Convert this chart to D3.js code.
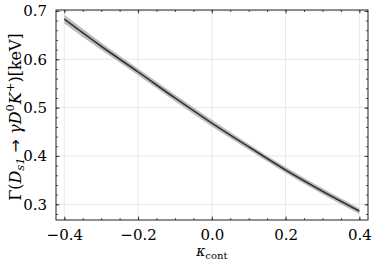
<!DOCTYPE html>
<html>
<head>
<meta charset="utf-8">
<script src="https://cdn.jsdelivr.net/npm/d3@7"></script>
<style>
  body { margin: 0; background: #fff; }
  svg { display: block; }
</style>
</head>
<body>
<svg width="377" height="264"></svg>
<script>
// values
const kappa = [-0.4, -0.3, -0.2, -0.1, 0.0, 0.1, 0.2, 0.3, 0.4];
const gammaCentral = [0.683, 0.627, 0.574, 0.520, 0.468, 0.419, 0.371, 0.327, 0.286];
const gammaUpper = [0.692, 0.635, 0.581, 0.527, 0.475, 0.425, 0.377, 0.333, 0.292];
const gammaLower = [0.674, 0.619, 0.567, 0.513, 0.461, 0.413, 0.365, 0.321, 0.280];

const xMajor = [-0.4, -0.2, 0.0, 0.2, 0.4];
const yMajor = [0.3, 0.4, 0.5, 0.6, 0.7];

const serif = '"DejaVu Serif", serif';
const plot = {left: 56, right: 368, top: 10, bottom: 220};

const svg = d3.select("svg");

const x = d3.scaleLinear().domain([-0.4225, 0.4235]).range([plot.left, plot.right]);
const y = d3.scaleLinear().domain([0.2675, 0.702]).range([plot.bottom, plot.top]);

const xMinor = d3.range(-0.4, 0.4001, 0.05);
const yMinor = d3.range(0.28, 0.7001, 0.02);

// grid
svg.append("g").selectAll("line").data(xMajor).join("line")
  .attr("x1", d => x(d)).attr("x2", d => x(d))
  .attr("y1", plot.top).attr("y2", plot.bottom)
  .attr("stroke", "#e3e3e3").attr("stroke-width", 0.8);
svg.append("g").selectAll("line").data(yMajor).join("line")
  .attr("y1", d => y(d)).attr("y2", d => y(d))
  .attr("x1", plot.left).attr("x2", plot.right)
  .attr("stroke", "#e3e3e3").attr("stroke-width", 0.8);

// band + line
const pts = kappa.map((k, i) => ({k, c: gammaCentral[i], lo: gammaLower[i], hi: gammaUpper[i]}));

svg.append("path")
  .datum(pts)
  .attr("d", d3.area().x(d => x(d.k)).y0(d => y(d.lo)).y1(d => y(d.hi)).curve(d3.curveMonotoneX))
  .attr("fill", "#bdbdbd");

svg.append("path")
  .datum(pts)
  .attr("d", d3.line().x(d => x(d.k)).y(d => y(d.c)).curve(d3.curveMonotoneX))
  .attr("fill", "none")
  .attr("stroke", "#333")
  .attr("stroke-width", 1.6);

// axes, ticks pointing inward on every side
const fmt = d3.format(".1f");
function addAxis(axis, tx, ty, major, minor, labels) {
  const g = svg.append("g").attr("transform", `translate(${tx},${ty})`)
    .call(axis.tickValues(minor).tickSize(-2).tickFormat(() => ""));
  g.selectAll("path").remove();
  const g2 = svg.append("g").attr("transform", `translate(${tx},${ty})`)
    .call(axis.tickValues(major).tickSize(-3.5).tickPadding(8).tickFormat(labels ? fmt : () => ""));
  g2.selectAll("path").remove();
  svg.selectAll("g .tick line").attr("stroke", "#222").attr("stroke-width", 0.8);
  g2.selectAll("text").style("font-size", "15px").style("font-family", serif).attr("fill", "#000");
  return g2;
}
const xAx = addAxis(d3.axisBottom(x), 0, plot.bottom, xMajor, xMinor, true);
xAx.selectAll("text").attr("dy", "0.8em");
addAxis(d3.axisTop(x), 0, plot.top, xMajor, xMinor, false);
const yl = addAxis(d3.axisLeft(y), plot.left, 0, yMajor, yMinor, true);
yl.selectAll("text").attr("dx", "-1");
addAxis(d3.axisRight(y), plot.right, 0, yMajor, yMinor, false);

svg.append("rect")
  .attr("x", plot.left).attr("y", plot.top)
  .attr("width", plot.right - plot.left).attr("height", plot.bottom - plot.top)
  .attr("fill", "none").attr("stroke", "#222").attr("stroke-width", 1);

// x label
const xl = svg.append("text")
  .attr("x", x(0)).attr("y", 256)
  .attr("text-anchor", "middle")
  .style("font-family", serif)
  .style("font-size", "14px");
xl.append("tspan").attr("font-style", "italic").text("κ");
xl.append("tspan").style("font-size", "10px").attr("dy", 2.5).text("cont");

// y label
const ylab = svg.append("text")
  .attr("transform", `translate(21,${(plot.top + plot.bottom) / 2 + 2}) rotate(-90)`)
  .attr("text-anchor", "middle")
  .style("font-family", serif)
  .style("font-size", "16px");
ylab.append("tspan").text("Γ(");
ylab.append("tspan").attr("font-style", "italic").text("D");
ylab.append("tspan").attr("font-style", "italic").style("font-size", "11.5px").attr("dy", 3).text("s1");
ylab.append("tspan").attr("dy", -3).style("font-family", '"DejaVu Sans", sans-serif').text(" → ");
ylab.append("tspan").attr("font-style", "italic").text("γD");
ylab.append("tspan").style("font-size", "11.5px").attr("dy", -7).text("0");
ylab.append("tspan").attr("font-style", "italic").attr("dy", 7).text("K");
ylab.append("tspan").style("font-size", "11.5px").attr("dy", -7).text("+");
ylab.append("tspan").attr("dy", 7).text(")[keV]");
</script>
</body>
</html>
